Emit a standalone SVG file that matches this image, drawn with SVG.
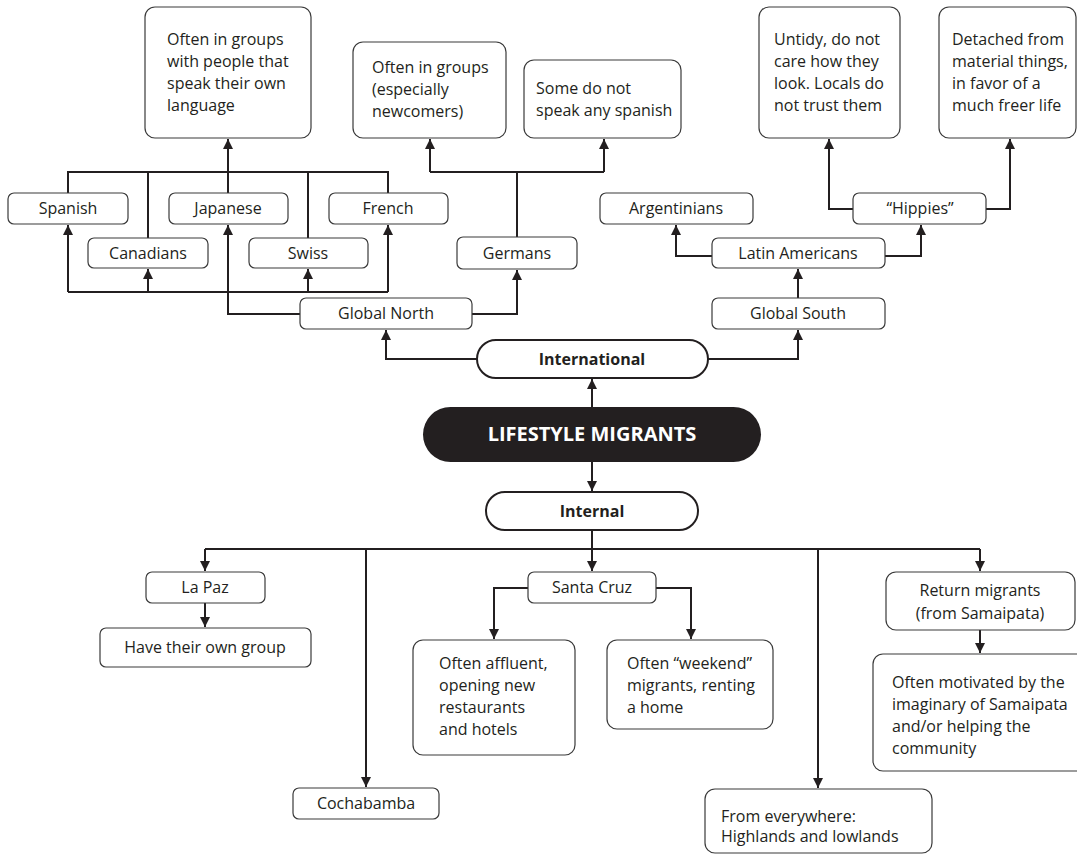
<svg xmlns="http://www.w3.org/2000/svg" width="1077" height="854" viewBox="0 0 1077 854">
<defs>
<style>
.box{fill:#fff;stroke:#3a3a3a;stroke-width:1.2}
.pill{fill:#fff;stroke:#231f20;stroke-width:2}
.t{font-family:"Open Sans","Liberation Sans",sans-serif;font-size:16px;fill:#231f20}
.c{text-anchor:middle}
.b{font-weight:bold}
.w{fill:#fff;font-size:20px}
.ln{fill:none;stroke:#231f20;stroke-width:2}
.ar{marker-end:url(#ah)}
</style>
<marker id="ah" viewBox="0 0 10 10" refX="10" refY="5" markerWidth="10" markerHeight="11" markerUnits="userSpaceOnUse" orient="auto">
<path d="M0,0 L10,5 L0,10 z" fill="#231f20"/>
</marker>
</defs>
<rect width="1077" height="854" fill="#fff"/>

<g id="connectors">
<path class="ln" d="M68 193 V172 H388 V193"/>
<path class="ln" d="M148 238 V172"/>
<path class="ln" d="M308 238 V172"/>
<path class="ln" d="M228 193 V172"/>
<path class="ln ar" d="M228 172 V139"/>
<path class="ln" d="M68 292 H388"/>
<path class="ln ar" d="M68 292 V225"/>
<path class="ln ar" d="M388 292 V225"/>
<path class="ln ar" d="M148 292 V269"/>
<path class="ln ar" d="M308 292 V269"/>
<path class="ln ar" d="M300 314 H228 V225"/>
<path class="ln ar" d="M472 314 H517 V270"/>
<path class="ln" d="M517 237 V172 M430 172 H604"/>
<path class="ln ar" d="M430 172 V139"/>
<path class="ln ar" d="M604 172 V139"/>
<path class="ln ar" d="M477 359 H386 V330"/>
<path class="ln ar" d="M708 359 H798 V330"/>
<path class="ln ar" d="M592 407 V379"/>
<path class="ln ar" d="M592 462 V491"/>
<path class="ln ar" d="M798 298 V269"/>
<path class="ln ar" d="M712 256 H676 V225"/>
<path class="ln ar" d="M885 256 H921 V225"/>
<path class="ln ar" d="M853 209 H829 V139"/>
<path class="ln ar" d="M986 209 H1010 V139"/>
<path class="ln" d="M205 549 H980"/>
<path class="ln ar" d="M592 530 V571"/>
<path class="ln ar" d="M205 549 V571"/>
<path class="ln ar" d="M980 549 V571"/>
<path class="ln ar" d="M366 549 V787"/>
<path class="ln ar" d="M818 549 V788"/>
<path class="ln ar" d="M205 603 V627"/>
<path class="ln ar" d="M528 588 H494 V639"/>
<path class="ln ar" d="M656 588 H691 V639"/>
<path class="ln ar" d="M980 630 V653"/>
</g>

<g id="n-lang">
<rect class="box" x="145" y="7" width="166" height="131" rx="10"/>
<text class="t" x="167" y="45">Often in groups</text>
<text class="t" x="167" y="67">with people that</text>
<text class="t" x="167" y="89">speak their own</text>
<text class="t" x="167" y="111">language</text>
</g>
<g id="n-spanish"><rect class="box" x="8" y="193" width="120" height="31" rx="6"/><text class="t c" x="68" y="214">Spanish</text></g>
<g id="n-japanese"><rect class="box" x="169" y="193" width="119" height="31" rx="6"/><text class="t c" x="228" y="214">Japanese</text></g>
<g id="n-french"><rect class="box" x="329" y="193" width="119" height="31" rx="6"/><text class="t c" x="388" y="214">French</text></g>
<g id="n-canadians"><rect class="box" x="88" y="238" width="120" height="30" rx="6"/><text class="t c" x="148" y="259">Canadians</text></g>
<g id="n-swiss"><rect class="box" x="249" y="238" width="119" height="30" rx="6"/><text class="t c" x="308" y="259">Swiss</text></g>
<g id="n-germans"><rect class="box" x="457" y="237" width="120" height="32" rx="6"/><text class="t c" x="517" y="259">Germans</text></g>
<g id="n-globalnorth"><rect class="box" x="300" y="298" width="172" height="31" rx="6"/><text class="t c" x="386" y="319">Global North</text></g>
<g id="n-newcomers">
<rect class="box" x="353" y="42" width="153" height="96" rx="10"/>
<text class="t" x="372" y="73">Often in groups</text>
<text class="t" x="372" y="95">(especially</text>
<text class="t" x="372" y="117">newcomers)</text>
</g>
<g id="n-nospanish">
<rect class="box" x="524" y="60" width="157" height="78" rx="10"/>
<text class="t" x="536" y="94">Some do not</text>
<text class="t" x="536" y="116">speak any spanish</text>
</g>
<g id="n-argentinians"><rect class="box" x="600" y="193" width="153" height="31" rx="6"/><text class="t c" x="676" y="214">Argentinians</text></g>
<g id="n-latin"><rect class="box" x="712" y="238" width="173" height="30" rx="6"/><text class="t c" x="798" y="259">Latin Americans</text></g>
<g id="n-globalsouth"><rect class="box" x="712" y="298" width="173" height="31" rx="6"/><text class="t c" x="798" y="319">Global South</text></g>
<g id="n-hippies"><rect class="box" x="853" y="193" width="133" height="31" rx="6"/><text class="t c" x="920" y="214">“Hippies”</text></g>
<g id="n-untidy">
<rect class="box" x="759" y="7" width="141" height="131" rx="10"/>
<text class="t" x="774" y="45">Untidy, do not</text>
<text class="t" x="774" y="67">care how they</text>
<text class="t" x="774" y="89">look. Locals do</text>
<text class="t" x="774" y="111">not trust them</text>
</g>
<g id="n-detached">
<rect class="box" x="939" y="7" width="137" height="131" rx="10"/>
<text class="t" x="952" y="45">Detached from</text>
<text class="t" x="952" y="67">material things,</text>
<text class="t" x="952" y="89">in favor of a</text>
<text class="t" x="952" y="111">much freer life</text>
</g>
<g id="n-international"><rect class="pill" x="477" y="340" width="231" height="38" rx="19"/><text class="t c b" x="592" y="365">International</text></g>
<g id="n-lifestyle"><rect x="423" y="407" width="338" height="55" rx="27.5" fill="#231f20"/><text class="t c b w" x="592" y="441">LIFESTYLE MIGRANTS</text></g>
<g id="n-internal"><rect class="pill" x="486" y="492" width="212" height="38" rx="19"/><text class="t c b" x="592" y="517">Internal</text></g>
<g id="n-lapaz"><rect class="box" x="146" y="572" width="119" height="31" rx="6"/><text class="t c" x="205" y="593">La Paz</text></g>
<g id="n-owngroup"><rect class="box" x="100" y="628" width="211" height="39" rx="6"/><text class="t c" x="205" y="653">Have their own group</text></g>
<g id="n-cochabamba"><rect class="box" x="293" y="788" width="146" height="31" rx="6"/><text class="t c" x="366" y="809">Cochabamba</text></g>
<g id="n-santacruz"><rect class="box" x="528" y="572" width="128" height="31" rx="6"/><text class="t c" x="592" y="593">Santa Cruz</text></g>
<g id="n-affluent">
<rect class="box" x="413" y="640" width="162" height="115" rx="10"/>
<text class="t" x="439" y="669">Often affluent,</text>
<text class="t" x="439" y="691">opening new</text>
<text class="t" x="439" y="713">restaurants</text>
<text class="t" x="439" y="735">and hotels</text>
</g>
<g id="n-weekend">
<rect class="box" x="607" y="640" width="166" height="89" rx="10"/>
<text class="t" x="627" y="669">Often “weekend”</text>
<text class="t" x="627" y="691">migrants, renting</text>
<text class="t" x="627" y="713">a home</text>
</g>
<g id="n-everywhere">
<rect class="box" x="705" y="789" width="227" height="64" rx="10"/>
<text class="t" x="721" y="822">From everywhere:</text>
<text class="t" x="721" y="842">Highlands and lowlands</text>
</g>
<g id="n-return">
<rect class="box" x="886" y="572" width="189" height="58" rx="10"/>
<text class="t c" x="980" y="596">Return migrants</text>
<text class="t c" x="980" y="619">(from Samaipata)</text>
</g>
<g id="n-motivated">
<rect class="box" x="873" y="654" width="220" height="117" rx="10"/>
<text class="t" x="892" y="688">Often motivated by the</text>
<text class="t" x="892" y="710">imaginary of Samaipata</text>
<text class="t" x="892" y="732">and/or helping the</text>
<text class="t" x="892" y="754">community</text>
</g>
</svg>
